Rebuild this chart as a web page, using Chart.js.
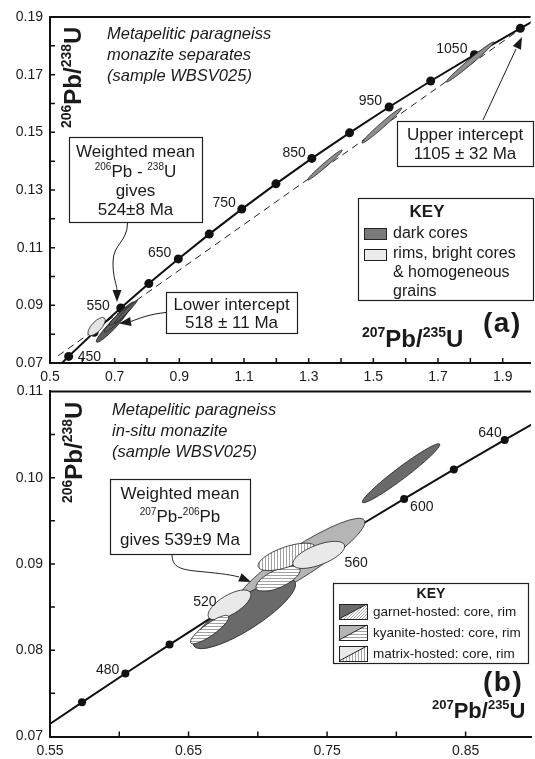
<!DOCTYPE html>
<html>
<head>
<meta charset="utf-8">
<script src="https://cdn.jsdelivr.net/npm/chart.js@4.4.0/dist/chart.umd.min.js"></script>
<style>
html, body { margin: 0; padding: 0; background: #fff; }
#wrap { position: relative; width: 535px; height: 759px; overflow: hidden; }
#chartA { position: absolute; left: 0; top: 0; }
#chartB { position: absolute; left: 0; top: 376px; }
</style>
</head>
<body>
<div id="wrap">
  <canvas id="chartA" width="535" height="386"></canvas>
  <canvas id="chartB" width="535" height="383"></canvas>
</div>
<script>
const FONT = "'Liberation Sans', Arial, Helvetica, sans-serif";
Chart.defaults.font.family = FONT;
Chart.defaults.font.size = 14;
Chart.defaults.color = '#1a1a1a';

// ---------- (a) monazite separates ----------
// concordia points every 50 Ma (207Pb/235U, 206Pb/238U)
const agesA = [400, 450, 500, 550, 600, 650, 700, 750, 800, 850, 900, 950, 1000, 1050, 1100, 1150];
const concA_x = [0.4828, 0.5577, 0.6363, 0.7189, 0.8056, 0.8968, 0.9925, 1.0931, 1.1987, 1.3097, 1.4263, 1.5488, 1.6774, 1.8126, 1.9545, 2.1037];
const concA_y = [0.06402, 0.07229, 0.08065, 0.08906, 0.09754, 0.10609, 0.11470, 0.12338, 0.13213, 0.14095, 0.14983, 0.15878, 0.16781, 0.17689, 0.18606, 0.19529];
const labelAgesA = [450, 550, 650, 750, 850, 950, 1050];
// discordia through 518 and 1105 Ma
const discA_x = [0.525, 1.99];
const discA_y = [0.0725, 0.1886];
// error ellipses: long-axis tips and width/length ratio
const ellA_x1 = [1.2966, 1.4650, 1.7255, 0.6195, 0.6440, 0.6685, 0.6838, 0.7000];
const ellA_y1 = [0.13346, 0.14630, 0.16745, 0.07970, 0.07727, 0.08074, 0.08317, 0.08380];
const ellA_x2 = [1.4038, 1.5876, 1.8725, 0.6685, 0.7390, 0.7604, 0.7512, 0.7700];
const ellA_y2 = [0.14387, 0.15844, 0.18133, 0.08557, 0.08837, 0.09115, 0.08976, 0.09180];
const ellA_r = [0.09, 0.09, 0.08, 0.42, 0.17, 0.15, 0.18, 0.10];
const ellA_kind = ['grey', 'grey', 'grey', 'light', 'dark', 'dark', 'dark', 'dark'];

// ---------- (b) in-situ monazite ----------
const agesB = [440, 460, 480, 500, 520, 540, 560, 580, 600, 620, 640, 660];
const concB_x = [0.5424, 0.5731, 0.6044, 0.6363, 0.6688, 0.7020, 0.7359, 0.7704, 0.8056, 0.8415, 0.8782, 0.9155];
const concB_y = [0.07064, 0.07396, 0.07730, 0.08065, 0.08401, 0.08738, 0.09075, 0.09414, 0.09754, 0.10095, 0.10438, 0.10781];
const labelAgesB = [480, 520, 560, 600, 640];
const ellB_x1 = [0.6860, 0.6538, 0.7755, 0.6989, 0.7003, 0.7254, 0.6645, 0.6516];
const ellB_y1 = [0.08566, 0.08050, 0.09713, 0.08715, 0.08967, 0.08990, 0.08382, 0.08084];
const ellB_x2 = [0.7769, 0.7268, 0.8313, 0.7304, 0.7418, 0.7626, 0.6946, 0.6788];
const ellB_y2 = [0.09507, 0.08795, 0.10390, 0.08944, 0.09197, 0.09220, 0.08669, 0.08394];
const ellB_r = [0.2, 0.27, 0.12, 0.37, 0.33, 0.36, 0.40, 0.26];
const ellB_kind = ['kyCore', 'gtCore', 'gtCore', 'kyRim', 'mxRim', 'mxCore', 'mxCore', 'kyRim'];

function toPts(xs, ys) { return xs.map((x, i) => ({ x: x, y: ys[i] })); }

// hatch patterns for the rims
function hatch(ctx, dir) {
  const c = document.createElement('canvas');
  c.width = 3; c.height = 3;
  const g = c.getContext('2d');
  g.fillStyle = '#fff'; g.fillRect(0, 0, 3, 3);
  g.strokeStyle = '#8a8a8a'; g.lineWidth = 0.8;
  g.beginPath();
  if (dir === 'h') { g.moveTo(0, 1.5); g.lineTo(3, 1.5); }
  else if (dir === 'v') { g.moveTo(1.5, 0); g.lineTo(1.5, 3); }
  else { g.moveTo(0, 3); g.lineTo(3, 0); g.moveTo(-1, 1); g.lineTo(1, -1); g.moveTo(2, 4); g.lineTo(4, 2); }
  g.stroke();
  return ctx.createPattern(c, 'repeat');
}

function fillFor(ctx, kind) {
  switch (kind) {
    case 'grey': return '#8e8e8e';
    case 'dark': return '#5e5e5e';
    case 'light': return '#e4e4e4';
    case 'kyCore': return '#b5b5b5';
    case 'gtCore': return '#6a6a6a';
    case 'mxCore': return '#e9e9e9';
    case 'kyRim': return hatch(ctx, 'h');
    case 'mxRim': return hatch(ctx, 'v');
    case 'gtRim': return hatch(ctx, 'd');
  }
}

function drawEllipses(chart, x1, y1, x2, y2, r, kind) {
  const ctx = chart.ctx, sx = chart.scales.x, sy = chart.scales.y, a = chart.chartArea;
  ctx.save();
  ctx.beginPath(); ctx.rect(a.left, a.top, a.right - a.left, a.bottom - a.top); ctx.clip();
  for (let i = 0; i < x1.length; i++) {
    const px1 = sx.getPixelForValue(x1[i]), py1 = sy.getPixelForValue(y1[i]);
    const px2 = sx.getPixelForValue(x2[i]), py2 = sy.getPixelForValue(y2[i]);
    const len = Math.hypot(px2 - px1, py2 - py1) / 2;
    ctx.beginPath();
    ctx.ellipse((px1 + px2) / 2, (py1 + py2) / 2, len, len * r[i], Math.atan2(py2 - py1, px2 - px1), 0, Math.PI * 2);
    ctx.fillStyle = fillFor(ctx, kind[i]);
    ctx.fill();
    ctx.lineWidth = 0.8; ctx.strokeStyle = '#222';
    ctx.stroke();
  }
  ctx.restore();
}

// age labels next to concordia markers
function drawAgeLabels(chart, ages, xs, ys, list, offs) {
  const ctx = chart.ctx, sx = chart.scales.x, sy = chart.scales.y;
  ctx.save();
  ctx.font = '14px ' + FONT; ctx.fillStyle = '#1a1a1a'; ctx.textBaseline = 'alphabetic';
  list.forEach(age => {
    const i = ages.indexOf(age), o = offs[age];
    ctx.textAlign = o[0];
    ctx.fillText(String(age), sx.getPixelForValue(xs[i]) + o[1], sy.getPixelForValue(ys[i]) + o[2]);
  });
  ctx.restore();
}

// inward tick marks + top frame line
function drawFrame(chart) {
  const ctx = chart.ctx, a = chart.chartArea, sx = chart.scales.x, sy = chart.scales.y;
  ctx.save();
  ctx.strokeStyle = '#111'; ctx.lineWidth = 1.5;
  ctx.beginPath();
  sx.ticks.forEach(t => {
    const p = sx.getPixelForValue(t.value);
    if (p > a.left + 2 && p < a.right - 1) { ctx.moveTo(p, a.bottom); ctx.lineTo(p, a.bottom - 5); }
  });
  sy.ticks.forEach(t => {
    const p = sy.getPixelForValue(t.value);
    if (p > a.top + 2 && p < a.bottom - 2) { ctx.moveTo(a.left, p); ctx.lineTo(a.left + 5, p); }
  });
  ctx.stroke();
  ctx.lineWidth = 2;
  ctx.beginPath(); ctx.moveTo(a.left - 1, a.top); ctx.lineTo(a.right, a.top); ctx.stroke();
  ctx.restore();
}

// text with superscript isotope numbers
function rich(ctx, parts, x, y, size, bold, align) {
  const big = (bold ? 'bold ' : '') + size + 'px ' + FONT;
  const small = (bold ? 'bold ' : '') + Math.round(size * 0.58) + 'px ' + FONT;
  let w = 0;
  parts.forEach(p => { ctx.font = p[1] ? small : big; w += ctx.measureText(p[0]).width; });
  let cx = align === 'center' ? x - w / 2 : x;
  ctx.textAlign = 'left'; ctx.textBaseline = 'alphabetic';
  parts.forEach(p => {
    ctx.font = p[1] ? small : big;
    ctx.fillText(p[0], cx, p[1] ? y - size * 0.4 : y);
    cx += ctx.measureText(p[0]).width;
  });
}

function text(ctx, s, x, y, font, align) {
  ctx.font = font; ctx.textAlign = align || 'left'; ctx.textBaseline = 'alphabetic';
  ctx.fillText(s, x, y);
}

function panelTag(ctx, s, x, y) {
  ctx.save();
  ctx.letterSpacing = '1.5px';
  text(ctx, s, x, y, 'bold 28px ' + FONT);
  ctx.restore();
}

function box(ctx, x, y, w, h) {
  ctx.fillStyle = '#fff'; ctx.fillRect(x, y, w, h);
  ctx.strokeStyle = '#222'; ctx.lineWidth = 1.2; ctx.strokeRect(x + 0.5, y + 0.5, w, h);
  ctx.fillStyle = '#1a1a1a';
}

function arrowHead(ctx, tx, ty, fx, fy) {
  const ang = Math.atan2(ty - fy, tx - fx), L = 12, W = 4.5;
  ctx.beginPath();
  ctx.moveTo(tx, ty);
  ctx.lineTo(tx - L * Math.cos(ang) + W * Math.sin(ang), ty - L * Math.sin(ang) - W * Math.cos(ang));
  ctx.lineTo(tx - L * Math.cos(ang) - W * Math.sin(ang), ty - L * Math.sin(ang) + W * Math.cos(ang));
  ctx.closePath(); ctx.fill();
}

function yTitle(ctx, x, y, size) {
  ctx.save(); ctx.translate(x, y); ctx.rotate(-Math.PI / 2);
  rich(ctx, [['206', 1], ['Pb/', 0], ['238', 1], ['U', 0]], 0, 0, size, true, 'left');
  ctx.restore();
}

const decoA = {
  id: 'decoA',
  afterDatasetsDraw(chart) {
    drawEllipses(chart, ellA_x1, ellA_y1, ellA_x2, ellA_y2, ellA_r, ellA_kind);
    const offs = { 450: ['left', 9, 5], 550: ['right', -11, 2], 650: ['right', -7, -2], 750: ['right', -6, -2],
      850: ['right', -6, -1], 950: ['right', -7, -2], 1050: ['right', -7, -2] };
    drawAgeLabels(chart, agesA, concA_x, concA_y, labelAgesA, offs);
  },
  afterDraw(chart) {
    const ctx = chart.ctx;
    drawFrame(chart);
    ctx.save();
    ctx.fillStyle = '#1a1a1a'; ctx.strokeStyle = '#1a1a1a';
    const it = 'italic 16.5px ' + FONT;
    text(ctx, 'Metapelitic paragneiss', 107, 39, it);
    text(ctx, 'monazite separates', 107, 60, it);
    text(ctx, '(sample WBSV025)', 107, 81, it);
    yTitle(ctx, 80.5, 128, 24);
    rich(ctx, [['207', 1], ['Pb/', 0], ['235', 1], ['U', 0]], 362, 347, 24, true, 'left');
    panelTag(ctx, '(a)', 483, 332);

    const f = '17px ' + FONT;
    box(ctx, 69, 137, 133, 85);
    text(ctx, 'Weighted mean', 135.5, 157, f, 'center');
    rich(ctx, [['206', 1], ['Pb - ', 0], ['238', 1], ['U', 0]], 135.5, 177, 17, false, 'center');
    text(ctx, 'gives', 135.5, 196, f, 'center');
    text(ctx, '524\u00b18 Ma', 135.5, 215, f, 'center');

    box(ctx, 166, 292, 131, 41);
    text(ctx, 'Lower intercept', 231.5, 310, f, 'center');
    text(ctx, '518 \u00b1 11 Ma', 231.5, 328, f, 'center');

    box(ctx, 397, 121, 136, 45);
    text(ctx, 'Upper intercept', 465, 140, f, 'center');
    text(ctx, '1105 \u00b1 32 Ma', 465, 159, f, 'center');

    // key
    box(ctx, 358, 198, 175, 102);
    text(ctx, 'KEY', 427, 217, 'bold 17px ' + FONT, 'center');
    ctx.lineWidth = 1; ctx.strokeStyle = '#222';
    ctx.fillStyle = '#7a7a7a'; ctx.fillRect(364, 228, 22, 11); ctx.strokeRect(364.5, 228.5, 22, 11);
    ctx.fillStyle = '#ebebeb'; ctx.fillRect(364, 249, 22, 11); ctx.strokeRect(364.5, 249.5, 22, 11);
    ctx.fillStyle = '#1a1a1a';
    const k = '16px ' + FONT;
    text(ctx, 'dark cores', 393, 238, k);
    text(ctx, 'rims, bright cores', 393, 258, k);
    text(ctx, '& homogeneous', 393, 277, k);
    text(ctx, 'grains', 393, 296, k);

    // arrows
    ctx.lineWidth = 1; ctx.strokeStyle = '#1a1a1a';
    ctx.beginPath(); ctx.moveTo(127.5, 223);
    ctx.bezierCurveTo(127.5, 242, 113, 244, 113, 262);
    ctx.bezierCurveTo(113, 280, 117, 284, 117, 291);
    ctx.stroke(); arrowHead(ctx, 117, 302, 117, 290);
    ctx.beginPath(); ctx.moveTo(166, 312.5);
    ctx.bezierCurveTo(150, 314, 140, 318, 131, 321.5);
    ctx.stroke(); arrowHead(ctx, 119, 323.5, 131, 321.5);
    ctx.beginPath(); ctx.moveTo(483, 120); ctx.lineTo(516, 49); ctx.stroke();
    arrowHead(ctx, 522, 37, 483, 120);
    ctx.restore();
  }
};

const decoB = {
  id: 'decoB',
  afterDatasetsDraw(chart) {
    drawEllipses(chart, ellB_x1, ellB_y1, ellB_x2, ellB_y2, ellB_r, ellB_kind);
    const offs = { 480: ['right', -6, 0], 520: ['right', 2, -10], 560: ['left', 37, 10], 600: ['left', 6, 12], 640: ['right', -3, -3] };
    drawAgeLabels(chart, agesB, concB_x, concB_y, labelAgesB, offs);
  },
  afterDraw(chart) {
    const ctx = chart.ctx;
    drawFrame(chart);
    ctx.save();
    ctx.translate(0, -376);
    ctx.fillStyle = '#1a1a1a'; ctx.strokeStyle = '#1a1a1a';
    const it = 'italic 16.5px ' + FONT;
    text(ctx, 'Metapelitic paragneiss', 112, 415, it);
    text(ctx, 'in-situ monazite', 112, 436, it);
    text(ctx, '(sample WBSV025)', 112, 457, it);
    yTitle(ctx, 82, 503, 24);
    rich(ctx, [['207', 1], ['Pb/', 0], ['235', 1], ['U', 0]], 432, 718, 22, true, 'left');
    panelTag(ctx, '(b)', 483, 691);

    const f = '17px ' + FONT;
    box(ctx, 110, 479, 140, 75);
    text(ctx, 'Weighted mean', 180, 499, f, 'center');
    rich(ctx, [['207', 1], ['Pb-', 0], ['206', 1], ['Pb', 0]], 180, 522, 17, false, 'center');
    text(ctx, 'gives 539\u00b19 Ma', 180, 545, f, 'center');

    ctx.lineWidth = 1;
    ctx.beginPath(); ctx.moveTo(172, 554);
    ctx.bezierCurveTo(172, 566, 178, 569, 195, 571);
    ctx.bezierCurveTo(215, 573, 228, 574, 239, 577);
    ctx.stroke(); arrowHead(ctx, 251, 582, 239, 577);

    // key
    box(ctx, 333, 583, 195, 80);
    text(ctx, 'KEY', 431, 598, 'bold 14px ' + FONT, 'center');
    const rows = [['#6a6a6a', 'd', 'garnet-hosted: core, rim'], ['#b5b5b5', 'h', 'kyanite-hosted: core, rim'], ['#e9e9e9', 'v', 'matrix-hosted: core, rim']];
    rows.forEach((r, i) => {
      const x = 339, y = 604 + i * 21, w = 28, h = 15;
      ctx.beginPath(); ctx.moveTo(x, y); ctx.lineTo(x + w, y); ctx.lineTo(x, y + h); ctx.closePath();
      ctx.fillStyle = r[0]; ctx.fill();
      ctx.beginPath(); ctx.moveTo(x + w, y); ctx.lineTo(x + w, y + h); ctx.lineTo(x, y + h); ctx.closePath();
      ctx.fillStyle = hatch(ctx, r[1]); ctx.fill();
      ctx.strokeStyle = '#222'; ctx.lineWidth = 1;
      ctx.strokeRect(x + 0.5, y + 0.5, w, h);
      ctx.beginPath(); ctx.moveTo(x, y + h); ctx.lineTo(x + w, y); ctx.stroke();
      ctx.fillStyle = '#1a1a1a';
      text(ctx, r[2], 373, y + 12, '13.5px ' + FONT);
    });
    ctx.restore();
  }
};

function axisOpts(min, max, step, keep, digits, size, isY) {
  return {
    type: 'linear', min: min, max: max,
    afterFit: s => { if (isY) s.width = size; else s.height = size; },
    grid: { display: false, drawTicks: false },
    border: { display: true, color: '#111', width: 2 },
    ticks: {
      stepSize: step, autoSkip: false, maxRotation: 0, includeBounds: false,
      padding: isY ? 7 : 6, color: '#1a1a1a', font: { size: 14 },
      callback: v => keep(v) ? v.toFixed(digits) : ''
    }
  };
}

new Chart(document.getElementById('chartA'), {
  type: 'scatter',
  data: {
    datasets: [
      { data: toPts(concA_x, concA_y), showLine: true, borderColor: '#111', borderWidth: 2,
        pointRadius: 4.5, pointBackgroundColor: '#111', pointBorderWidth: 0, clip: 0 },
      { data: toPts(discA_x, discA_y), showLine: true, borderColor: '#222', borderWidth: 1,
        borderDash: [7, 5], pointRadius: 0, clip: 0 }
    ]
  },
  options: {
    responsive: false, animation: false, events: [],
    layout: { padding: { top: 17, right: 0, left: 0, bottom: 0 } },
    plugins: { legend: { display: false }, tooltip: { enabled: false } },
    scales: {
      x: axisOpts(0.5, 1.986, 0.1, v => Math.round(v * 10) % 2 === 1, 1, 23, false),
      y: axisOpts(0.07, 0.19, 0.01, v => Math.round(v * 100) % 2 === 1, 2, 50, true)
    }
  },
  plugins: [decoA]
});

new Chart(document.getElementById('chartB'), {
  type: 'scatter',
  data: {
    datasets: [
      { data: toPts(concB_x, concB_y), showLine: true, borderColor: '#111', borderWidth: 2,
        pointRadius: 4, pointBackgroundColor: '#111', pointBorderWidth: 0, clip: 0 }
    ]
  },
  options: {
    responsive: false, animation: false, events: [],
    layout: { padding: { top: 12, right: 0, left: 0, bottom: 0 } },
    plugins: { legend: { display: false }, tooltip: { enabled: false } },
    scales: {
      x: axisOpts(0.55, 0.8972, 0.05, v => Math.round(v * 100) % 10 === 5, 2, 22.5, false),
      y: axisOpts(0.07, 0.11, 0.005, v => Math.round(v * 1000) % 10 === 0, 2, 50, true)
    }
  },
  plugins: [decoB]
});
</script>
</body>
</html>
